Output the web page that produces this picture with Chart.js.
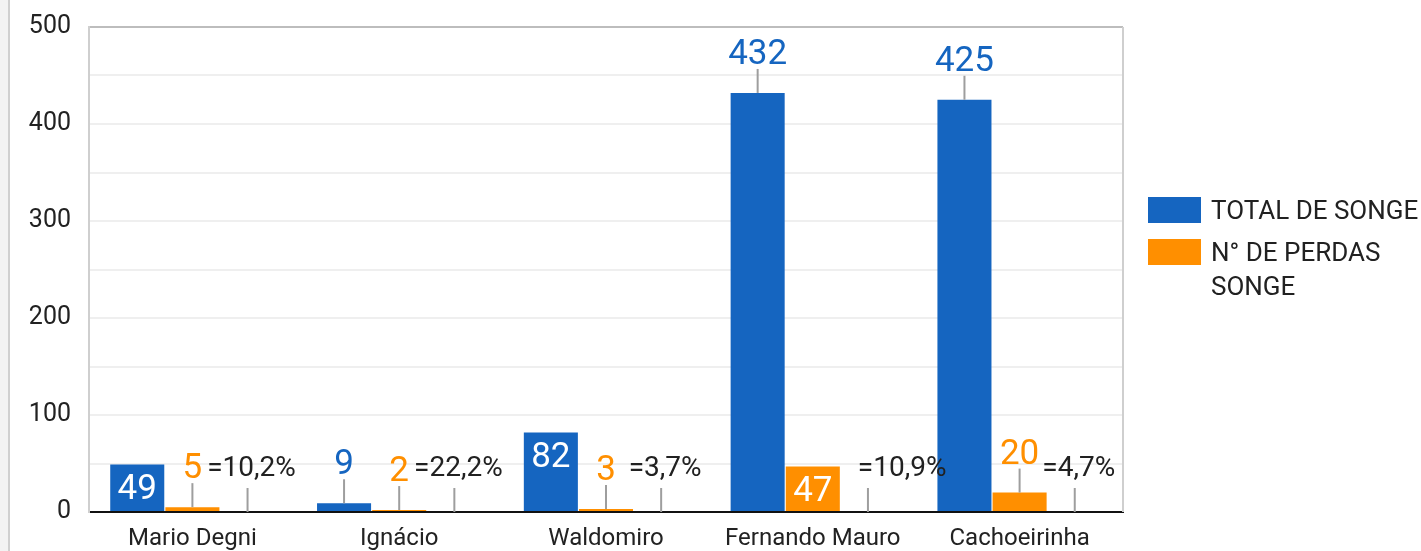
<!DOCTYPE html>
<html>
<head>
<meta charset="utf-8">
<script src="https://cdn.jsdelivr.net/npm/chart.js@4.4.0/dist/chart.umd.min.js"></script>
<style>
  body { margin: 0; background: #fff; font-family: Roboto, sans-serif; }
  #wrap { position: relative; width: 1421px; height: 551px; overflow: hidden; }
  #faixa { position: absolute; left: 0; top: 0; width: 8px; height: 551px; background: #f3f3f3; border-right: 2px solid #d0d0d0; }
  canvas { position: absolute; left: 0; top: 0; }
  .legenda { position: absolute; left: 1148px; font-size: 26px; line-height: 34px; color: #212121; }
  .legenda span { position: absolute; left: 0; width: 53px; height: 26px; }
  .legenda div { position: absolute; left: 63px; white-space: nowrap; }
</style>
</head>
<body>
<div id="wrap">
  <div id="faixa"></div>
  <canvas id="grafico" width="1421" height="551"></canvas>
  <div class="legenda" style="top:197px">
    <span style="background:#1565c0"></span>
    <div style="top:-4px">TOTAL DE SONGE</div>
  </div>
  <div class="legenda" style="top:239px">
    <span style="background:#ff8f00"></span>
    <div style="top:-4px">N° DE PERDAS<br>SONGE</div>
  </div>
</div>
<script>
// Dados
const escolas = ['Mario Degni', 'Ignácio', 'Waldomiro', 'Fernando Mauro', 'Cachoeirinha'];
const totalSonge = [49, 9, 82, 432, 425];
const perdasSonge = [5, 2, 3, 47, 20];
const percentuais = ['=10,2%', '=22,2%', '=3,7%', '=10,9%', '=4,7%'];
const marcadorPercentual = [0, 0, 0, 0, 0];

// rótulos que ficam dentro da barra (índices por série)
const dentroTotal = [0, 2];
const dentroPerdas = [3];

const AZUL = '#1565c0';
const LARANJA = '#ff8f00';
const HASTE = '#9e9e9e';

const rotulos = {
    id: 'rotulos',
    afterDatasetsDraw(chart) {
        const ctx = chart.ctx;
        ctx.save();
        chart.data.datasets.forEach((ds, di) => {
            const meta = chart.getDatasetMeta(di);
            meta.data.forEach((barra, i) => {
                const x = barra.x, topo = barra.y;
                const dentro = ds.dentro && ds.dentro.includes(i);
                ctx.textAlign = 'center';
                ctx.textBaseline = 'alphabetic';
                if (dentro) {
                    ctx.fillStyle = '#fff';
                    ctx.font = '35px Roboto';
                    ctx.fillText(String(ds.data[i]), x, topo + 35);
                    return;
                }
                // haste cinza acima da barra
                ctx.strokeStyle = HASTE;
                ctx.lineWidth = 2;
                ctx.beginPath();
                ctx.moveTo(x, topo);
                ctx.lineTo(x, topo - 24);
                ctx.stroke();
                if (ds.textos) {
                    ctx.fillStyle = '#212121';
                    ctx.font = '28px Roboto';
                    ctx.textAlign = 'left';
                    const w = ctx.measureText(ds.textos[i]).width;
                    const base = topo - 36;
                    let esq = x + 4 - w / 2;
                    // afasta o texto da barra vizinha se ela o cobrir
                    const viz = chart.getDatasetMeta(di - 1).data[i];
                    const dir = viz.x + viz.width / 2;
                    if (viz.y < base && esq < dir) esq = dir + 18;
                    ctx.fillText(ds.textos[i], esq, base);
                } else {
                    ctx.fillStyle = ds.backgroundColor;
                    ctx.font = '35px Roboto';
                    ctx.fillText(String(ds.data[i]), x, topo - 29);
                }
            });
        });
        ctx.restore();
    },
    afterDraw(chart) {
        const a = chart.chartArea, ctx = chart.ctx;
        ctx.save();
        ctx.strokeStyle = '#cfcfcf';
        ctx.lineWidth = 2;
        ctx.beginPath();
        ctx.moveTo(a.right, a.top);
        ctx.lineTo(a.right, a.bottom);
        ctx.stroke();
        ctx.restore();
    }
};

const ctx = document.getElementById('grafico').getContext('2d');
new Chart(ctx, {
    type: 'bar',
    data: {
        labels: escolas,
        datasets: [
            { label: 'TOTAL DE SONGE', data: totalSonge, backgroundColor: AZUL, dentro: dentroTotal },
            { label: 'N° DE PERDAS SONGE', data: perdasSonge, backgroundColor: LARANJA, dentro: dentroPerdas },
            { label: '', data: marcadorPercentual, backgroundColor: 'rgba(0,0,0,0)', textos: percentuais }
        ]
    },
    options: {
        responsive: false,
        animation: false,
        categoryPercentage: 0.8,
        barPercentage: 0.98,
        layout: { padding: { top: 27, right: 298, left: 0, bottom: 0 } },
        plugins: { legend: { display: false }, tooltip: { enabled: false } },
        scales: {
            x: {
                grid: { display: false },
                border: { color: '#111', width: 2 },
                ticks: { font: { family: 'Roboto', size: 24 }, color: '#222', padding: 5 },
                afterFit: s => { s.height = 39; }
            },
            y: {
                min: 0,
                max: 500,
                ticks: {
                    stepSize: 50,
                    callback: v => (v % 100 === 0 ? v : ''),
                    font: { family: 'Roboto', size: 25 },
                    color: '#222',
                    padding: 18
                },
                grid: {
                    drawTicks: false,
                    lineWidth: 2,
                    color: c => (c.tick && c.tick.value === 500 ? '#bdbdbd' : '#efefef')
                },
                border: { color: '#cfcfcf', width: 2 },
                afterFit: s => { s.width = 89; s.paddingTop = 0; s.paddingBottom = 0; }
            }
        }
    },
    plugins: [rotulos]
});
</script>
</body>
</html>
